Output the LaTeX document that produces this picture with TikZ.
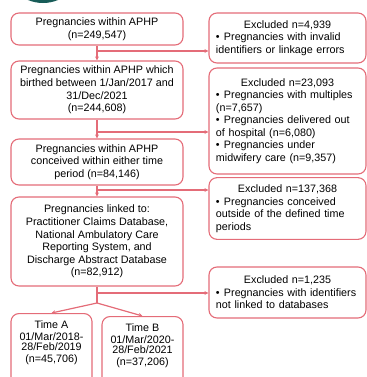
\documentclass[tikz,border=0pt]{standalone}
\usepackage{fontspec}
\setmainfont{Liberation Sans}
\usetikzlibrary{arrows.meta}
\definecolor{boxred}{RGB}{228,108,120}
\definecolor{darkteal}{RGB}{24,92,88}
\newcommand{\exitem}[1]{\par\raggedright\hangindent=8bp\hangafter=1\noindent\makebox[8bp][l]{\textbullet}#1}
\tikzset{
  mainbox/.style={draw=boxred, line width=1.1bp, rounded corners=8bp, align=center,
    minimum width=172bp, inner sep=3bp},
  exbox/.style={draw=boxred, line width=1.1bp, rounded corners=8bp, text width=143bp,
    inner sep=7bp, minimum height=#1},
  link/.style={draw=boxred, line width=1.2bp, -{Stealth[length=4bp,width=4bp]}},
  plain/.style={draw=boxred, line width=1.2bp}
}
\begin{document}
\begin{tikzpicture}[x=1bp, y=-1bp, font=\fontsize{10.8}{12.6}\selectfont]
            \useasboundingbox (0,0) rectangle (367,377);
            \clip (0,0) rectangle (367,377);
            \fill[darkteal] (43,-36) circle (39);
            \node[mainbox, minimum height=32bp] (b1) at (97,29) {Pregnancies within APHP\\(n=249,547)};
            \node[mainbox, minimum height=58bp] (b2) at (97,90) {Pregnancies within APHP which\\birthed between 1/Jan/2017 and\\31/Dec/2021\\(n=244,608)};
            \node[mainbox, minimum height=46bp] (b3) at (97,162) {Pregnancies within APHP\\conceived within either time\\period (n=84,146)};
            \node[mainbox, minimum height=89bp] (b4) at (97,241.5) {Pregnancies linked to:\\Practitioner Claims Database,\\National Ambulatory Care\\Reporting System, and\\Discharge Abstract Database\\(n=82,912)};
            \node[mainbox, minimum width=81bp, minimum height=80bp, anchor=north] (ta) at (51.5,313) {\strut Time A\\01/Mar/2018-\\[-3bp]28/Feb/2019\\(n=45,706)\\ \\};
            \node[mainbox, minimum width=81bp, minimum height=80bp, anchor=north] (tb) at (142.5,316) {\strut Time B\\01/Mar/2020-\\[-3bp]28/Feb/2021\\(n=37,206)\\ \\};
            \node[exbox=50bp] (e1) at (287.5,38) {\centering Excluded n=4,939\exitem{Pregnancies with invalid\\identifiers or linkage errors}};
            \node[exbox=106bp] (e2) at (287.5,121) {\centering Excluded n=23,093\exitem{Pregnancies with multiples\\(n=7,657)}\exitem{Pregnancies delivered out\\of hospital (n=6,080)}\exitem{Pregnancies under\\midwifery care (n=9,357)}};
            \node[exbox=61bp] (e3) at (287.5,208.5) {\centering Excluded n=137,368\exitem{Pregnancies conceived\\outside of the defined time\\periods}};
            \node[exbox=51bp] (e4) at (287.5,292.5) {\centering Excluded n=1,235\exitem{Pregnancies with identifiers\\not linked to databases}};
            \coordinate (j1) at (97,51);
            \coordinate (j2) at (97,132);
            \coordinate (j3) at (97,190);
            \coordinate (j4) at (97,293);
            \coordinate (split) at (97,303);
            \draw[link] (b1) -- (b2);
            \draw[link] (b2) -- (b3);
            \draw[link] (b3) -- (b4);
            \draw[plain] (b4) -- (split);
            \draw[link] (j1) -- (j1 -| e1.west);
            \draw[link] (j2) -- (j2 -| e2.west);
            \draw[link] (j3) -- (j3 -| e3.west);
            \draw[link] (j4) -- (j4 -| e4.west);
            \draw[link] (split) -- (ta.north);
            \draw[link] (split) -- (tb.north);
        \end{tikzpicture}
\end{document}
